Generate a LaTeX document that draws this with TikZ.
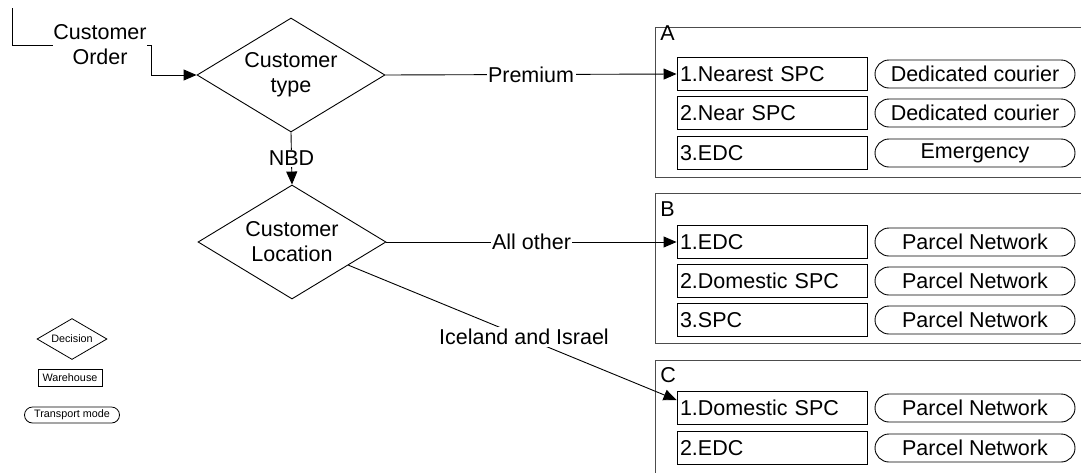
\documentclass[tikz,border=0pt]{standalone}
\usepackage{fontspec}
\setmainfont{Liberation Sans}
\usetikzlibrary{shapes.geometric,arrows.meta}

\tikzset{
  decision/.style={diamond,draw,aspect=1.65,inner sep=0pt,minimum width=188pt,minimum height=114pt,align=center},
  whbox/.style={draw,text width=184pt,inner xsep=3pt,inner ysep=0pt,minimum height=33pt,align=left},
  mode/.style={draw,rounded corners=14pt,minimum width=200pt,minimum height=28pt,inner sep=0pt},
  grp/.style={draw=black!70,minimum width=460pt,anchor=north west,inner sep=0pt},
  lbl/.style={fill=white,inner sep=1.5pt},
  arr/.style={-{Triangle[length=13pt,width=11pt]}}
}

\begin{document}
\begin{tikzpicture}[x=1pt,y=-1pt,line width=0.9pt,font=\fontsize{21.5}{25}\selectfont]
  \useasboundingbox (0,0) rectangle (1081,472);
  \clip (0,0) rectangle (1081,472);

  % groups
  \node[grp,minimum height=150pt] (A) at (655,27) {};
  \node[grp,minimum height=150pt] (B) at (655,193) {};
  \node[grp,minimum height=130pt] (C) at (655,360) {};
  \node[anchor=west,inner sep=0pt] (Alab) at (660,33) {A};
  \node[anchor=west,inner sep=0pt] (Blab) at (660,209) {B};
  \node[anchor=west,inner sep=0pt] (Clab) at (660,375) {C};

  \foreach \y/\name/\txt/\how in {74/a1/1.Nearest SPC/Dedicated courier, 113/a2/2.Near SPC/Dedicated courier,
      153/a3/3.EDC/Emergency, 242/b1/1.EDC/Parcel Network, 281/b2/2.Domestic SPC/Parcel Network,
      320/b3/3.SPC/Parcel Network, 408/c1/1.Domestic SPC/Parcel Network, 448/c2/2.EDC/Parcel Network}
  {
    \node[whbox] (\name) at (772,\y) {\txt};
    \node[mode] (\name m) at (975,\y) {\how};
  }

  % decisions
  \node[inner sep=0pt,align=center] (order) at (100,45) {Customer\\Order};
  \node[decision] (ctype) at (291,75) {Customer\\type};
  \node[decision] (loc) at (292,242) {Customer\\Location};

  \coordinate (in) at (12,8);
  \draw (in) |- (order.west);
  \draw[arr] (order.east) -- ++(4,0) |- (ctype.west);
  \draw[arr] (ctype.south) -- node[lbl] {NBD} (loc.north);
  \draw[arr] (ctype.east) -- node[lbl] {Premium} (a1.west);
  \draw[arr] (loc.east) -- node[lbl] {All other} (b1.west);
  \draw[arr] (loc) -- node[lbl,pos=0.535,inner sep=2pt] {Iceland and Israel} ([yshift=8pt]c1.west);

  % legend
  \begin{scope}[font=\fontsize{10.8}{12}\selectfont,line width=0.8pt]
    \node[diamond,draw,aspect=1.7,inner sep=0pt,minimum width=70pt,minimum height=41pt] (legdec) at (72,339) {Decision};
    \node[draw,minimum width=64pt,minimum height=17pt,inner sep=0pt] (legwh) at (70,378) {Warehouse};
    \node[draw,rounded corners=8pt,minimum width=95pt,minimum height=16pt,inner sep=0pt] (legmode) at (72,415) {Transport mode};
  \end{scope}
\end{tikzpicture}
\end{document}
